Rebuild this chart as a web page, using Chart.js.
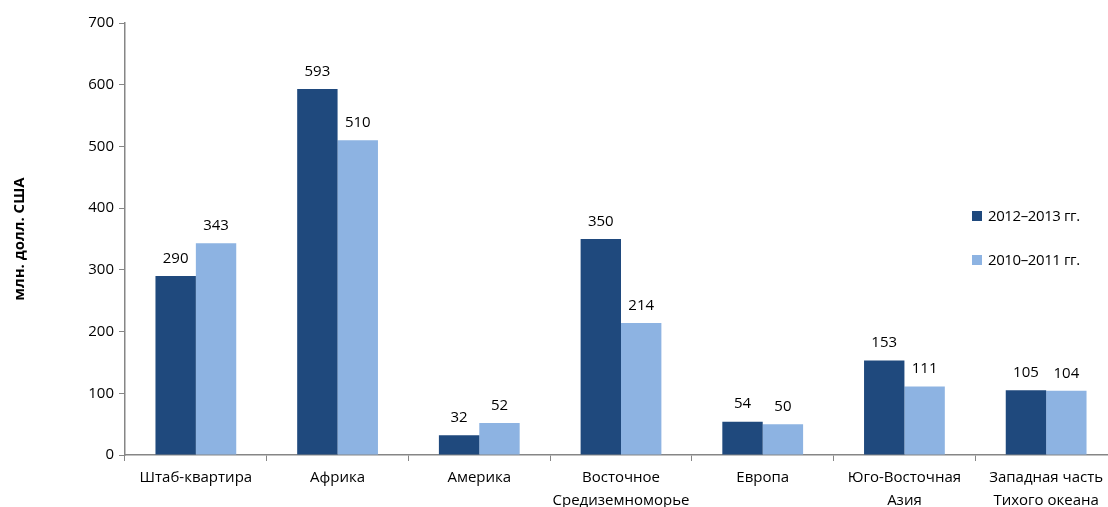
<!DOCTYPE html>
<html>
<head>
<meta charset="utf-8">
<script src="https://cdn.jsdelivr.net/npm/chart.js@4"></script>
<style>
  html, body { margin: 0; padding: 0; background: #fff; overflow: hidden; }
  #wrap { position: relative; width: 1120px; height: 507px; }
  #legend { position: absolute; left: 972px; top: 205px; font-family: "Open Sans", sans-serif; font-size: 15px; letter-spacing: -0.4px; color: #000; }
  #legend div { height: 44px; display: flex; align-items: flex-start; white-space: nowrap; }
  #legend span.box { display: inline-block; width: 10px; height: 10px; margin: 6px 6px 0 0; }
</style>
</head>
<body>
<div id="wrap">
  <canvas id="barChart"></canvas>
  <div id="legend"></div>
</div>
<script>
var regions = [['Штаб-квартира'], ['Африка'], ['Америка'], ['Восточное', 'Средиземноморье'], ['Европа'], ['Юго-Восточная', 'Азия'], ['Западная часть', 'Тихого океана']];
var seriesNames = ['2012–2013 гг.', '2010–2011 гг.'];
var values2012 = [290, 593, 32, 350, 54, 153, 105];
var values2010 = [343, 510, 52, 214, 50, 111, 104];
var yTicks = [0, 100, 200, 300, 400, 500, 600, 700];
var colors = ['#1f497d', '#8db3e2'];
var fontFamily = '"Open Sans", sans-serif';

// value labels above bars
var barLabels = {
    id: 'barLabels',
    afterDatasetsDraw: function(chart) {
        var c = chart.ctx;
        c.save();
        c.font = '15px ' + fontFamily;
        c.fillStyle = '#000';
        c.textAlign = 'center';
        c.textBaseline = 'bottom';
        chart.data.datasets.forEach(function(ds, i) {
            chart.getDatasetMeta(i).data.forEach(function(bar, j) {
                c.fillText(ds.data[j], bar.x, bar.y - 10);
            });
        });
        c.restore();
    }
};

var canvas = document.getElementById('barChart');
canvas.width = 1120; canvas.height = 507;
var ctx = canvas.getContext('2d');
var myChart = new Chart(ctx, {
    type: 'bar',
    data: {
        labels: regions,
        datasets: [{
            label: seriesNames[0],
            data: values2012,
            backgroundColor: colors[0],
            categoryPercentage: 0.57,
            barPercentage: 1
        }, {
            label: seriesNames[1],
            data: values2010,
            backgroundColor: colors[1],
            categoryPercentage: 0.57,
            barPercentage: 1
        }]
    },
    options: {
        responsive: false,
        animation: false,
        layout: { padding: { top: 23, right: 3, bottom: 0, left: 0 } },
        plugins: {
            legend: { display: false },
            tooltip: { enabled: false }
        },
        scales: {
            x: {
                afterFit: function(axis) { axis.height = 52; },
                grid: { display: true, drawOnChartArea: false, offset: true, tickLength: 6, color: '#868686' },
                border: { color: '#868686', width: 1.5 },
                ticks: { color: '#000', font: { family: fontFamily, size: 15, lineHeight: 1.55 }, maxRotation: 0, padding: 5 }
            },
            y: {
                min: 0, max: 700,
                afterFit: function(axis) { axis.width = 125; },
                afterBuildTicks: function(axis) { axis.ticks = yTicks.map(function(v) { return { value: v }; }); },
                grid: { display: true, drawOnChartArea: false, tickLength: 6, color: '#868686' },
                border: { color: '#868686', width: 1.5 },
                ticks: { color: '#000', font: { family: fontFamily, size: 15 }, padding: 5 },
                title: { display: true, text: 'млн. долл. США', color: '#000', font: { family: fontFamily, size: 15, weight: 'bold' }, padding: { top: 11, bottom: 0 } }
            }
        }
    },
    plugins: [barLabels]
});

var legend = document.getElementById('legend');
seriesNames.forEach(function(name, i) {
    var row = document.createElement('div');
    row.innerHTML = '<span class="box" style="background:' + colors[i] + '"></span>' + name;
    legend.appendChild(row);
});
</script>
</body>
</html>
